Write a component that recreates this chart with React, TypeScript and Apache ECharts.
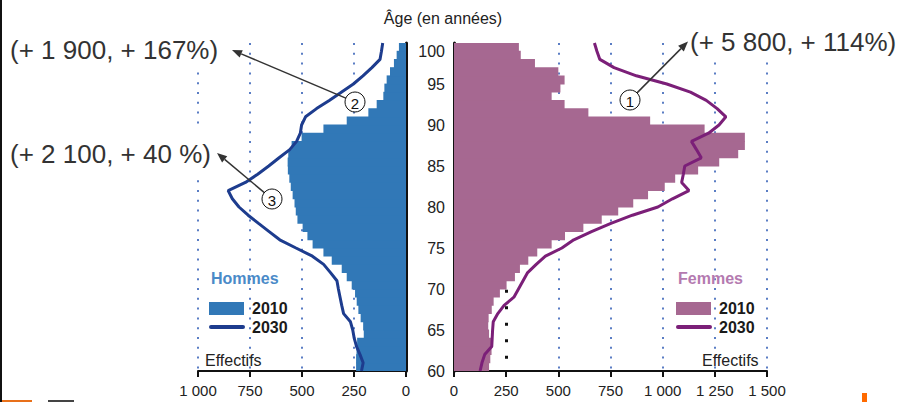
import React, { useEffect, useRef } from "react";
import * as echarts from "echarts";

// ---- data ----
const barAges = [
  "60","61","62","63","64","65","66","67","68","69",
  "70","71","72","73","74","75","76","77","78","79",
  "80","81","82","83","84","85","86","87","88","89",
  "90","91","92","93","94","95","96","97","98","99",
];
const lineAges = [
  60,61,62,63,64,65,66,67,68,69,70,71,72,73,74,75,76,77,78,79,
  80,81,82,83,84,85,86,87,88,89,90,91,92,93,94,95,96,97,98,99,100,
];
const menBar2010 = [
  240,240,238,235,203,206,218,229,237,245,
  261,285,309,357,397,449,474,497,522,530,
  536,545,554,561,568,569,566,550,502,397,
  285,181,141,109,104,93,77,58,45,34,
];
const womenBar2010 = [
  168,174,180,178,168,164,166,181,190,220,
  252,292,316,356,399,468,532,620,708,787,
  859,930,1010,1060,1170,1271,1362,1394,1394,1201,
  940,644,530,468,510,530,500,388,320,311,
];
const menLine2030 = [
  214,206,221,238,249,256,267,300,309,317,
  325,332,363,396,450,529,607,658,709,759,
  803,835,855,772,713,660,610,559,526,508,
  502,483,430,369,311,253,207,164,125,118,112,
];
const womenLine2030 = [
  125,134,147,181,183,185,188,210,240,287,
  309,331,353,394,438,517,574,659,752,855,
  977,1047,1126,1091,1099,1106,1185,1162,1138,1220,
  1270,1303,1261,1209,1133,1020,874,767,699,685,673,
];
const menTicks = { min: 0, max: 1000, interval: 250 };
const womenTicks = { min: 0, max: 1500, interval: 250 };
const ageAxis = { min: 60, max: 100, interval: 5 };
const marker250 = { value: 250, from: 61.5, to: 70 };

const FONT = "'Liberation Sans', Arial, sans-serif";
const MEN_BAR = "#3178b7";
const MEN_LINE = "#1d3c8e";
const WOMEN_BAR = "#a66891";
const WOMEN_LINE = "#7b1f78";
const GRID_BLUE = "#5a7dc4";

const fmt = (v: number) =>
  v >= 1000 ? `${Math.floor(v / 1000)} ${String(v % 1000).padStart(3, "0")}` : String(v);

function arrow(x1: number, y1: number, x2: number, y2: number) {
  const dx = x2 - x1, dy = y2 - y1;
  const L = Math.hypot(dx, dy);
  const ux = dx / L, uy = dy / L;
  const hl = 10, hw = 4;
  const bx = x2 - ux * hl, by = y2 - uy * hl;
  return [
    { type: "line", z: 100, shape: { x1, y1, x2: bx, y2: by }, style: { stroke: "#333", lineWidth: 1.5 } },
    {
      type: "polygon", z: 100,
      shape: { points: [[x2, y2], [bx - uy * hw, by + ux * hw], [bx + uy * hw, by - ux * hw]] },
      style: { fill: "#333" },
    },
  ];
}

function callout(cx: number, cy: number, label: string, tx: number, ty: number) {
  const r = 10;
  const dx = tx - cx, dy = ty - cy;
  const L = Math.hypot(dx, dy);
  const sx = cx + (dx / L) * r, sy = cy + (dy / L) * r;
  return [
    ...arrow(sx, sy, tx, ty),
    { type: "circle", z: 101, shape: { cx, cy, r }, style: { fill: "#fff", stroke: "#111", lineWidth: 1 } },
    {
      type: "text", z: 102, x: cx, y: cy + 1,
      style: { text: label, font: `15px ${FONT}`, fill: "#111", align: "center", verticalAlign: "middle" },
    },
  ];
}

function legend(x: number, titleText: string, titleColor: string, barColor: string, lineColor: string) {
  return [
    { type: "text", z: 100, x: x + 2, y: 278, style: { text: titleText, font: `bold 16px ${FONT}`, fill: titleColor, verticalAlign: "middle" } },
    { type: "rect", z: 100, shape: { x, y: 302, width: 35, height: 13 }, style: { fill: barColor } },
    { type: "text", z: 100, x: x + 43, y: 308.5, style: { text: "2010", font: `bold 16px ${FONT}`, fill: "#1a1a1a", verticalAlign: "middle" } },
    { type: "line", z: 100, shape: { x1: x + 2, y1: 327, x2: x + 34, y2: 327 }, style: { stroke: lineColor, lineWidth: 4, lineCap: "round" } },
    { type: "text", z: 100, x: x + 43, y: 327, style: { text: "2030", font: `bold 16px ${FONT}`, fill: "#1a1a1a", verticalAlign: "middle" } },
  ];
}

export default function App() {
  const ref = useRef<HTMLDivElement>(null);
  useEffect(() => {
    if (!ref.current) return;
    const chart = echarts.init(ref.current, undefined, { renderer: "svg" });
    const xAxisCommon = {
      type: "value",
      axisLine: { show: true, onZero: false, lineStyle: { color: "#111", width: 2 } },
      axisTick: { show: true, length: 6, lineStyle: { color: "#111", width: 2 } },
      axisLabel: { formatter: fmt, fontSize: 15, color: "#222", margin: 12, fontFamily: FONT },
    };
    const dotted = { type: [2, 7.8], width: 2 };
    const option: any = {
      animation: false,
      backgroundColor: "#fff",
      textStyle: { fontFamily: FONT },
      grid: [
        { left: 198, width: 208, top: 43, height: 328 },
        { left: 454, width: 313, top: 43, height: 328 },
      ],
      xAxis: [
        {
          ...xAxisCommon, gridIndex: 0, inverse: true, ...menTicks,
          splitLine: { show: true, lineStyle: { ...dotted, color: ["transparent", GRID_BLUE, GRID_BLUE, GRID_BLUE, GRID_BLUE] } },
        },
        {
          ...xAxisCommon, gridIndex: 1, ...womenTicks,
          splitLine: {
            show: true,
            lineStyle: { ...dotted, color: ["transparent", "transparent", GRID_BLUE, GRID_BLUE, GRID_BLUE, GRID_BLUE, GRID_BLUE] },
          },
        },
      ],
      yAxis: [
        { gridIndex: 0, type: "category", data: barAges, show: false },
        {
          gridIndex: 0, type: "value", ...ageAxis, position: "right",
          axisLine: { show: true, onZero: false, lineStyle: { color: "#111", width: 3 } },
          axisTick: { show: false }, axisLabel: { show: false }, splitLine: { show: false },
        },
        { gridIndex: 1, type: "category", data: barAges, show: false },
        {
          gridIndex: 1, type: "value", ...ageAxis, position: "left",
          axisLine: { show: true, onZero: false, lineStyle: { color: "#111", width: 3 } },
          axisTick: { show: false },
          axisLabel: { fontSize: 16, color: "#222", margin: 9, fontFamily: FONT, verticalAlignMaxLabel: "top" },
          splitLine: { show: false },
        },
      ],
      series: [
        {
          type: "bar", xAxisIndex: 0, yAxisIndex: 0, data: menBar2010,
          barWidth: 9, itemStyle: { color: MEN_BAR },
        },
        {
          type: "line", xAxisIndex: 0, yAxisIndex: 1,
          data: menLine2030.map((v, i) => [v, lineAges[i]]),
          showSymbol: false, lineStyle: { color: MEN_LINE, width: 3 },
        },
        {
          type: "bar", xAxisIndex: 1, yAxisIndex: 2, data: womenBar2010,
          barWidth: 9, itemStyle: { color: WOMEN_BAR },
        },
        {
          type: "line", xAxisIndex: 1, yAxisIndex: 3,
          data: womenLine2030.map((v, i) => [v, lineAges[i]]),
          showSymbol: false, lineStyle: { color: WOMEN_LINE, width: 3 },
          markLine: {
            silent: true, symbol: ["none", "none"], label: { show: false },
            lineStyle: { color: "#111", width: 3, type: [3, 13.5] },
            data: [[{ coord: [marker250.value, marker250.from] }, { coord: [marker250.value, marker250.to] }]],
          },
        },
      ],
      graphic: [
        { type: "rect", z: 100, shape: { x: 0, y: 0, width: 2, height: 402 }, style: { fill: "#111" } },
        {
          type: "text", z: 100, x: 443, y: 18,
          style: { text: "Âge (en années)", font: `16px ${FONT}`, fill: "#222", align: "center", verticalAlign: "middle" },
        },
        {
          type: "text", z: 99, x: 6, y: 50,
          style: { text: "(+ 1 900, + 167%)", font: `26px ${FONT}`, fill: "#333", verticalAlign: "middle", backgroundColor: "#fff", padding: [6, 4] },
        },
        {
          type: "text", z: 99, x: 6, y: 154,
          style: { text: "(+ 2 100, + 40 %)", font: `26px ${FONT}`, fill: "#333", verticalAlign: "middle", backgroundColor: "#fff", padding: [13, 4] },
        },
        {
          type: "text", z: 99, x: 686, y: 42,
          style: { text: "(+ 5 800, + 114%)", font: `26px ${FONT}`, fill: "#333", verticalAlign: "middle", backgroundColor: "#fff", padding: [5, 4] },
        },
        ...callout(355, 102, "2", 232, 50),
        ...callout(272, 199, "3", 217, 153),
        ...callout(630, 100, "1", 688, 41.5),
        ...legend(209, "Hommes", "#4a8ac8", MEN_BAR, MEN_LINE),
        ...legend(676, "Femmes", "#b47ab0", WOMEN_BAR, WOMEN_LINE),
        { type: "text", z: 100, x: 205, y: 360, style: { text: "Effectifs", font: `16px ${FONT}`, fill: "#222", verticalAlign: "middle" } },
        { type: "text", z: 100, x: 702, y: 360, style: { text: "Effectifs", font: `16px ${FONT}`, fill: "#222", verticalAlign: "middle" } },
        { type: "rect", z: 100, shape: { x: 862, y: 393, width: 5, height: 9 }, style: { fill: "#ff6a00" } },
        { type: "rect", z: 100, shape: { x: 2, y: 400, width: 30, height: 2 }, style: { fill: "#e8701a" } },
        { type: "rect", z: 100, shape: { x: 48, y: 400, width: 26, height: 2 }, style: { fill: "#444" } },
      ],
    };
    chart.setOption(option);
    return () => chart.dispose();
  }, []);
  return (
    <div
      ref={ref}
      style={{ position: "absolute", left: 0, top: 0, width: 902, height: 402, background: "#fff" }}
    />
  );
}
